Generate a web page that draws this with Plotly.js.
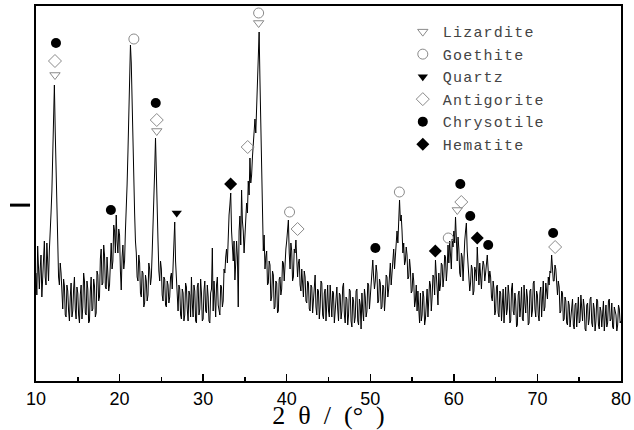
<!DOCTYPE html>
<html>
<head>
<meta charset="utf-8">
<script src="https://cdn.plot.ly/plotly-3.0.1.min.js"></script>
<style>
html,body{margin:0;padding:0;background:#fff;}
#chart{width:634px;height:430px;}
#chart .legendtext{letter-spacing:1.2px;}
#chart .legend .scrollbox{clip-path:none !important;}
</style>
</head>
<body>
<div id="chart"></div>
<script>
// XRD scan: 2θ from 10° to 80°, step 0.1°
var scanStart = 10, scanStep = 0.1;
var intensity = [
  108,86,135,118,92,112,126,84,100,128,140,104,96,138,122,100,131,146,168,190,
  232,270,296,250,205,160,128,104,96,118,108,80,72,102,95,66,64,96,90,70,
  60,84,98,64,70,92,104,72,62,94,88,66,58,86,96,62,74,108,100,68,
  66,100,92,58,60,90,104,70,72,102,95,64,68,110,106,80,84,122,132,96,
  98,136,126,94,92,124,112,90,96,130,138,112,120,156,150,128,166,140,128,152,
  146,110,91,124,136,112,120,150,170,196,228,262,290,336,318,270,228,190,168,140,
  128,104,100,126,118,88,84,110,108,74,78,106,100,80,86,118,112,96,104,128,
  150,176,210,243,200,150,140,110,100,120,112,86,80,104,102,76,74,100,96,78,
  84,104,108,92,118,136,159,120,104,82,70,96,92,66,62,92,88,60,66,98,
  94,72,60,90,86,64,104,78,64,96,90,60,58,94,98,66,72,102,88,60,
  62,90,100,70,68,96,84,60,58,88,92,133,70,100,76,64,96,104,76,70,
  66,96,94,74,80,112,108,124,132,118,150,166,176,188,150,132,120,140,101,118,
  140,124,74,150,165,136,191,160,150,128,141,160,178,168,200,186,223,198,206,224,
  235,250,262,248,280,300,326,349,300,250,186,160,130,146,112,124,130,96,98,120,
  116,80,84,110,106,72,74,100,98,68,70,102,104,86,92,120,118,100,124,132,
  140,150,161,128,112,138,130,100,104,132,128,141,126,104,118,122,96,90,112,100,
  84,110,104,80,78,100,98,72,70,96,94,68,82,104,106,74,66,92,90,62,
  74,100,98,66,62,88,92,60,80,96,70,64,96,82,64,90,88,58,72,92,
  94,72,60,88,86,62,70,94,98,66,58,84,82,56,66,92,90,60,54,84,
  80,58,64,90,92,60,56,82,76,52,88,70,60,92,84,64,70,98,96,72,
  84,104,110,121,104,92,100,116,108,78,80,102,98,72,74,96,94,70,84,106,
  104,84,92,114,118,96,110,130,132,112,124,146,150,138,168,181,160,166,150,128,
  138,116,120,134,126,102,104,122,112,88,90,108,100,74,80,96,70,90,72,58,
  88,60,66,90,84,56,62,88,92,64,78,100,96,70,84,106,104,86,121,98,
  92,76,108,90,96,118,116,94,104,126,124,100,112,136,118,140,128,112,142,134,
  150,138,164,140,120,144,132,108,104,128,124,100,130,140,150,158,130,118,112,90,
  98,116,112,86,90,114,110,100,134,104,96,118,104,92,110,120,116,100,108,122,
  126,112,98,110,104,84,80,100,92,66,70,94,96,68,64,90,88,60,76,92,
  58,84,94,66,72,96,86,58,60,92,98,70,66,88,80,54,56,86,90,64,
  74,94,62,60,96,78,68,92,84,56,58,90,92,64,70,98,100,72,64,90,
  86,66,60,88,94,64,78,100,70,74,98,84,82,104,96,110,108,126,112,100,
  100,116,112,90,86,100,94,68,70,90,88,60,62,84,80,58,56,80,76,54,
  64,80,82,56,52,76,78,54,68,84,58,60,86,70,60,82,74,52,50,76,
  78,56,62,82,84,58,54,78,72,50,60,82,80,56,52,74,70,54,64,80,
  50,70,76,54,58,80,82,60,62,78,54,52,74,70,66,50,56,76,72,58,
  60
];
var twoTheta = intensity.map(function(_, i){ return +(scanStart + i*scanStep).toFixed(1); });

// Phase markers (2θ, marker height)
var lizarditeX = [12.27, 24.45, 36.64, 60.41];
var lizarditeY = [306, 250, 358, 171];
var goethiteX = [21.71, 36.64, 40.34, 53.48, 59.33];
var goethiteY = [342, 368, 169, 189, 143];
var quartzX = [26.84];
var quartzY = [168];
var antigoriteX = [12.27, 24.45, 35.33, 41.30, 60.89, 72.12];
var antigoriteY = [320, 261, 234, 152, 179, 134];
var chrysotileX = [12.39, 18.96, 24.33, 50.61, 60.77, 61.96, 64.11, 71.88];
var chrysotileY = [338, 171, 278, 133, 197, 165, 136, 148];
var hematiteX = [33.29, 57.78, 62.80];
var hematiteY = [197, 130, 143];

var xTicks = [10, 20, 30, 40, 50, 60, 70, 80];

var grey = '#8a8a8a';
var traces = [
  {x: twoTheta, y: intensity, type: 'scatter', mode: 'lines',
   line: {color: '#000', width: 1}, showlegend: false, hoverinfo: 'skip'},
  {x: lizarditeX, y: lizarditeY, name: 'Lizardite', type: 'scatter', mode: 'markers',
   marker: {symbol: 'triangle-down-open', size: 9, color: grey, line: {width: 1}}},
  {x: goethiteX, y: goethiteY, name: 'Goethite', type: 'scatter', mode: 'markers',
   marker: {symbol: 'circle-open', size: 10, color: grey, line: {width: 1}}},
  {x: quartzX, y: quartzY, name: 'Quartz', type: 'scatter', mode: 'markers',
   marker: {symbol: 'triangle-down', size: 9, color: '#000'}},
  {x: antigoriteX, y: antigoriteY, name: 'Antigorite', type: 'scatter', mode: 'markers',
   marker: {symbol: 'diamond-open', size: 10, color: grey, line: {width: 1}}},
  {x: chrysotileX, y: chrysotileY, name: 'Chrysotile', type: 'scatter', mode: 'markers',
   marker: {symbol: 'circle', size: 10, color: '#000'}},
  {x: hematiteX, y: hematiteY, name: 'Hematite', type: 'scatter', mode: 'markers',
   marker: {symbol: 'diamond', size: 10, color: '#000'}}
];

var layout = {
  width: 634, height: 430,
  margin: {l: 36, r: 13, t: 6, b: 49},
  paper_bgcolor: '#fff', plot_bgcolor: '#fff',
  showlegend: true,
  legend: {x: 0.627, y: 0.975, xanchor: 'left', yanchor: 'top',
           bgcolor: 'rgba(0,0,0,0)', borderwidth: 0,
           font: {family: 'Liberation Mono', size: 15, color: '#444'}},
  xaxis: {range: [10, 80], tickvals: xTicks, ticktext: xTicks.map(String),
          ticks: 'inside', ticklen: 7, tickwidth: 1.5, tickcolor: '#000',
          minor: {dtick: 5, ticks: 'inside', ticklen: 4, tickwidth: 1.5, tickcolor: '#000'},
          showline: true, linewidth: 2, linecolor: '#000', mirror: true,
          showgrid: false, zeroline: false,
          tickfont: {family: 'Liberation Sans', size: 18, color: '#000'},
          title: {text: '2\u2002θ\u2002/\u2002(°\u2002)', standoff: 0,
                  font: {family: 'Liberation Serif', size: 26, color: '#000'}}},
  yaxis: {range: [0, 375], showticklabels: false, ticks: '',
          showline: true, linewidth: 2, linecolor: '#000', mirror: true,
          showgrid: false, zeroline: false},
  shapes: [{type: 'line', xref: 'paper', yref: 'paper',
            x0: -0.0444, x1: -0.0102, y0: 0.469, y1: 0.469,
            line: {color: '#000', width: 3}}]
};

Plotly.newPlot('chart', traces, layout, {displayModeBar: false, staticPlot: true});
</script>
</body>
</html>
